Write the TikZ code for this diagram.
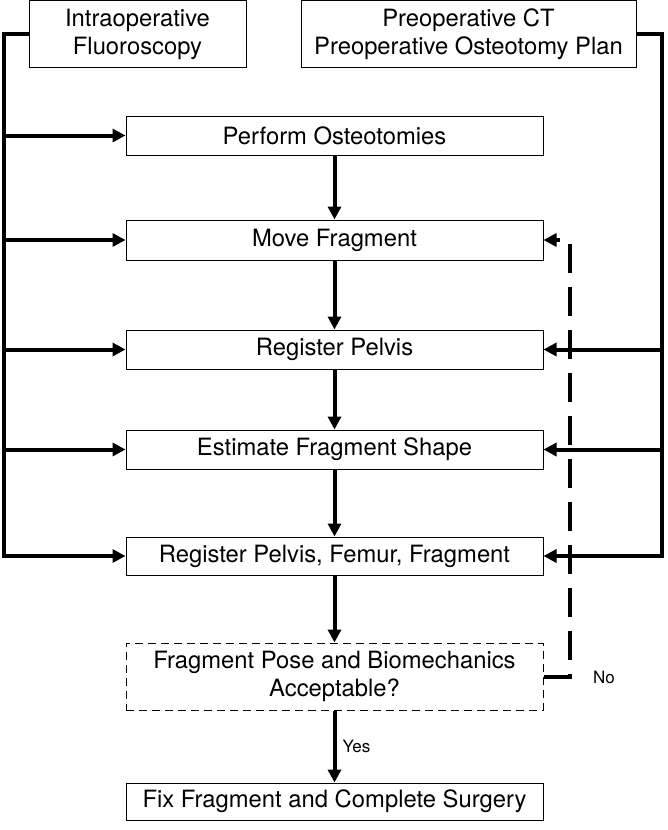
\documentclass[tikz,border=0pt]{standalone}
\usepackage{fontspec}
\setmainfont{TeX Gyre Heros}
\usetikzlibrary{arrows.meta}
\begin{document}
\begin{tikzpicture}[x=1pt,y=-1pt,
  box/.style={draw,line width=1pt,inner sep=0pt,align=center,font=\fontsize{23.8}{28}\selectfont},
  dbox/.style={box,dash pattern=on 8pt off 5pt},
  bus/.style={line width=4pt},
  arr/.style={line width=4pt,-{Triangle[length=13pt,width=13pt]}},
  darr/.style={arr,dash pattern=on 29pt off 14pt},
  lbl/.style={font=\fontsize{17}{20}\selectfont,inner sep=0pt}]
\useasboundingbox (0,0) rectangle (668,830);
\node[box,minimum width=217pt,minimum height=67pt] (fluoro) at (137.5,34) {Intraoperative\\Fluoroscopy};
\node[box,minimum width=335pt,minimum height=67pt] (preop) at (468.5,34) {Preoperative CT\\Preoperative Osteotomy Plan};
\node[box,minimum width=417pt,minimum height=39pt] (perf) at (334.5,135.5) {Perform Osteotomies};
\node[box,minimum width=417pt,minimum height=40pt] (move) at (334.5,240) {Move Fragment};
\node[box,minimum width=417pt,minimum height=39pt] (regp) at (334.5,349.5) {Register Pelvis};
\node[box,minimum width=417pt,minimum height=39pt] (est) at (334.5,449.5) {Estimate Fragment Shape};
\node[box,minimum width=417pt,minimum height=38pt] (rpff) at (334.5,556) {Register Pelvis, Femur, Fragment};
\node[dbox,minimum width=417pt,minimum height=67pt] (dec) at (334.5,676.5) {Fragment Pose and Biomechanics\\Acceptable?};
\node[box,minimum width=417pt,minimum height=37pt] (fix) at (334.5,801.5) {Fix Fragment and Complete Surgery};
\coordinate (lbus) at (4,34);
\coordinate (rbus) at (662,34);
\coordinate (dbus) at (570,676.5);
% left bus
\draw[arr] (fluoro.west) -- (lbus) -- (lbus |- rpff.west) -- (rpff.west);
\draw[arr] (lbus |- perf.west) -- (perf.west);
\draw[arr] (lbus |- move.west) -- (move.west);
\draw[arr] (lbus |- regp.west) -- (regp.west);
\draw[arr] (lbus |- est.west) -- (est.west);
% right bus
\draw[arr] (preop.east) -- (rbus) -- (rbus |- rpff.east) -- (rpff.east);
\draw[arr] (rbus |- regp.east) -- (regp.east);
\draw[arr] (rbus |- est.east) -- (est.east);
% main flow
\draw[arr] (perf.south) -- (move.north);
\draw[arr] (move.south) -- (regp.north);
\draw[arr] (regp.south) -- (est.north);
\draw[arr] (est.south) -- (rpff.north);
\draw[arr] (rpff.south) -- (dec.north);
\draw[arr] (dec.south) -- node[lbl,right=6pt,pos=0.5] (yes) {Yes} (fix.north);
% feedback
\draw[darr] (dec.east) -- (dbus) -- (dbus |- move.east) -- (move.east);
\node[lbl] (no) at (604,677) {No};
\end{tikzpicture}
\end{document}
